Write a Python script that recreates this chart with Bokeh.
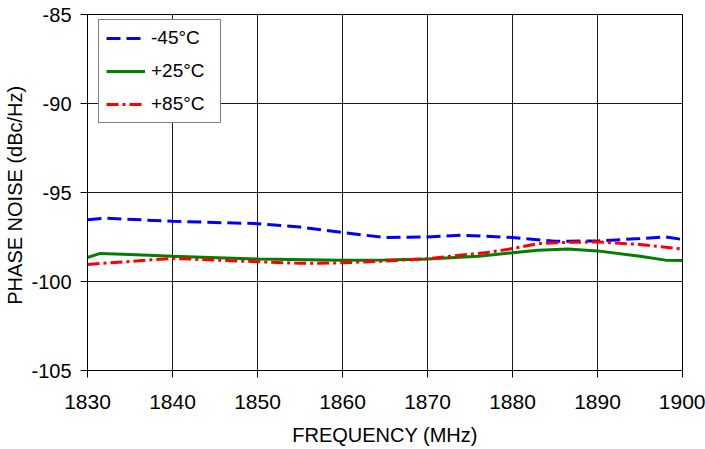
from bokeh.plotting import figure
from bokeh.models import Legend, LegendItem, FixedTicker, PrintfTickFormatter
from bokeh.embed import file_html
from bokeh.resources import INLINE

# Data
freq_m45 = [1830, 1832, 1840, 1850, 1855, 1860, 1865, 1870, 1874, 1880, 1885, 1890, 1895, 1898, 1900]
pn_m45 = [-96.53, -96.44, -96.62, -96.75, -96.94, -97.25, -97.53, -97.5, -97.4, -97.53, -97.74, -97.72, -97.59, -97.5, -97.64]

freq_p25 = [1830, 1831.5, 1835, 1840, 1850, 1860, 1865, 1870, 1876, 1880, 1883, 1886.5, 1890, 1895, 1898, 1900]
pn_p25 = [-98.65, -98.42, -98.48, -98.58, -98.74, -98.8, -98.79, -98.74, -98.58, -98.39, -98.24, -98.17, -98.28, -98.58, -98.8, -98.82]

freq_p85 = [1830, 1840, 1850, 1855, 1860, 1865, 1870, 1877, 1880, 1883, 1886.5, 1890, 1895, 1900]
pn_p85 = [-99.04, -98.7, -98.89, -98.98, -98.95, -98.85, -98.72, -98.37, -98.15, -97.87, -97.8, -97.78, -97.92, -98.18]

series_labels = ["-45°C", "+25°C", "+85°C"]
x_ticks = [1830, 1840, 1850, 1860, 1870, 1880, 1890, 1900]
y_ticks = [-105, -100, -95, -90, -85]

FONT = "Liberation Sans"

W, H = 705, 449
BL, BR, BT, BB = 87, 23, 14, 79

p = figure(width=W, height=H, output_backend="svg", toolbar_location=None,
           x_range=(1830, 1900), y_range=(-105, -85),
           min_border_left=BL, min_border_right=BR, min_border_top=BT, min_border_bottom=BB)

p.outline_line_color = "black"
p.outline_line_width = 1
p.background_fill_color = "white"
p.border_fill_color = "white"

for g in (p.xgrid[0], p.ygrid[0]):
    g.grid_line_color = "#1a1a1a"
    g.grid_line_width = 1

p.xaxis.ticker = FixedTicker(ticks=x_ticks)
p.yaxis.ticker = FixedTicker(ticks=y_ticks)
p.yaxis.formatter = PrintfTickFormatter(format="%d")
p.xaxis.formatter = PrintfTickFormatter(format="%d")

for ax in (p.xaxis[0], p.yaxis[0]):
    ax.axis_line_color = "black"
    ax.major_tick_line_color = "black"
    ax.major_tick_out = 7
    ax.major_tick_in = 0
    ax.minor_tick_line_color = None
    ax.major_label_text_font = FONT
    ax.major_label_text_font_size = "20px"
    ax.major_label_text_color = "black"
    ax.axis_label_text_font = FONT
    ax.axis_label_text_font_size = "20px"
    ax.axis_label_text_font_style = "normal"
    ax.axis_label_text_color = "black"

p.xaxis.major_label_text_font_size = "21px"
p.xaxis.axis_label = "FREQUENCY (MHz)"
p.yaxis.axis_label = "PHASE NOISE  (dBc/Hz)"
p.xaxis.major_label_standoff = 17
p.xaxis.axis_label_standoff = 12
p.yaxis.major_label_standoff = 9
p.yaxis.axis_label_standoff = 2

r1 = p.line(freq_m45, pn_m45, line_color="#0000FF", line_width=3, line_dash="14 6")
r2 = p.line(freq_p25, pn_p25, line_color="#008000", line_width=3)
r3 = p.line(freq_p85, pn_p85, line_color="#FF0000", line_width=3, line_dash="12 4 3 4")

legend = Legend(items=[LegendItem(label=series_labels[0], renderers=[r1]),
                       LegendItem(label=series_labels[1], renderers=[r2]),
                       LegendItem(label=series_labels[2], renderers=[r3])],
                location=(11, 247))
legend.margin = 0
legend.padding = 7
legend.spacing = 11
legend.label_height = 22
legend.glyph_height = 22
legend.glyph_width = 39
legend.label_width = 62
legend.label_standoff = 6
legend.label_text_font = FONT
legend.label_text_font_size = "19px"
legend.label_text_color = "black"
legend.border_line_color = "black"
legend.border_line_width = 1
legend.background_fill_color = "white"
legend.background_fill_alpha = 1.0
p.add_layout(legend)

open("out.html", "w").write(file_html(p, INLINE))
